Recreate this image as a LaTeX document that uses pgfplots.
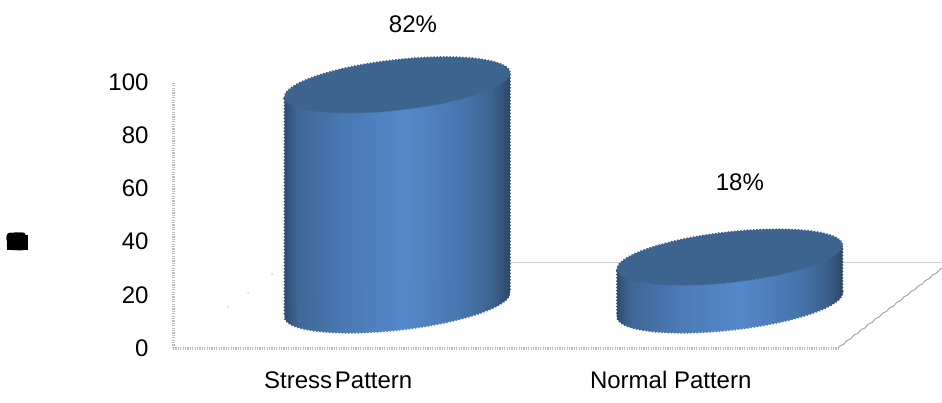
\documentclass[border=0pt]{standalone}
\usepackage{fontspec}
\setmainfont{Liberation Sans}
\usepackage{pgfplots}
\usetikzlibrary{decorations.pathmorphing}
\pgfplotsset{compat=1.18}

% Cylinder colours: dark rim, lit centre, dark rim
\definecolor{cylEdgeL}{HTML}{2F4B70}
\definecolor{cylA}{HTML}{3F6696}
\definecolor{cylB}{HTML}{4A79B3}
\definecolor{cylMid}{HTML}{5588CB}
\definecolor{cylC}{HTML}{4674AC}
\definecolor{cylD}{HTML}{3C628F}
\definecolor{cylEdgeR}{HTML}{2B4565}
\definecolor{cylTop}{HTML}{3D638F}
\definecolor{wallGrey}{HTML}{BDBDBD}

\pgfdeclarehorizontalshading{cylside}{100bp}{
  color(0bp)=(cylEdgeL); color(25bp)=(cylEdgeL); color(28bp)=(cylA);
  color(38bp)=(cylB); color(52bp)=(cylMid); color(65bp)=(cylC);
  color(71bp)=(cylD); color(75bp)=(cylEdgeR); color(100bp)=(cylEdgeR)}

\tikzset{rough/.style={decorate,decoration={zigzag,amplitude=0.7pt,segment length=3.2pt}}}

% Outline of a tilted end cap
\newcommand{\capoutline}{(-113pt,-12pt)
  .. controls (-113pt,-26.08pt) and (-62.4pt,-32.13pt) .. (0pt,-25.5pt)
  .. controls (62.4pt,-18.87pt) and (113pt,-2.08pt) .. (113pt,12pt)
  .. controls (113pt,26.08pt) and (62.4pt,32.13pt) .. (0pt,25.5pt)
  .. controls (-62.4pt,18.87pt) and (-113pt,2.08pt) .. (-113pt,-12pt) -- cycle}
\pgfdeclareplotmark{cylcap}{\path[fill=cylTop,draw=none,rough] \capoutline;}
\pgfdeclareplotmark{cylbase}{\path[shading=cylside,draw=none,rough] \capoutline;}

\begin{document}
\begin{tikzpicture}
\path[use as bounding box] (0pt,0pt) rectangle (942pt,402pt);

% Axis title, overprinted on one spot until it reads as a solid block
\fill[black] (7pt,152pt) rectangle (27.5pt,167pt);
\node[font=\fontsize{25}{25}\selectfont\bfseries,inner sep=0pt] at (17pt,160pt)
  {\makebox[0pt]{\%}\makebox[0pt]{\kern-7pt 4}\makebox[0pt]{\kern7pt 8}\makebox[0pt]{6}\makebox[0pt]{\kern-5pt 0}\makebox[0pt]{\kern5pt 5}};

\begin{axis}[
  at={(173pt,54pt)}, anchor=south west,
  scale only axis, width=665pt, height=266pt,
  xmin=-0.5, xmax=1.5, ymin=0, ymax=100,
  clip=false,
  axis x line*=bottom, axis y line*=left,
  axis line style={draw=wallGrey, line width=3pt, dash pattern=on 1.2pt off 1.2pt, -},
  major tick length=0pt,
  xtick={0,1}, xticklabels={Stress\hspace{-4pt} Pattern, Normal Pattern},
  ytick={0,20,40,60,80,100},
  tick label style={font=\fontsize{24}{24}\selectfont},
  /pgf/number format/assume math mode=true,
  yticklabel style={xshift=-21pt},
  xticklabel style={yshift=-20pt, xshift=-1pt},
]
% floor edges at the back and on the right, specks on the floor
\addplot[draw=gray!35, line width=0.8pt, forget plot] coordinates {(0.5135,32.3) (1.813,32.3)};
\addplot[draw=gray!75, line width=0.9pt, forget plot,
  decorate, decoration={zigzag,amplitude=0.5pt,segment length=9pt}] coordinates {(1.5,0) (1.813,30)};
\addplot[only marks, mark=*, mark size=0.7pt, color=gray!30, forget plot]
  coordinates {(-0.335,15.4) (-0.274,20.7) (-0.202,27.8)};

% Stress Pattern cylinder
\addplot[only marks, mark=cylbase, xshift=58pt, yshift=43pt, forget plot] coordinates {(0,0)};
\addplot[ybar, bar width=226pt, bar shift=0pt, shading=cylside, draw=none, forget plot, rough,
  cm={1,0.1062,0,1,(58pt,27.3pt)}] coordinates {(0,82)};
\addplot[only marks, mark=cylcap, xshift=58pt, yshift=45pt, forget plot] coordinates {(0,82)};

% Normal Pattern cylinder
\addplot[only marks, mark=cylbase, xshift=58pt, yshift=43pt, forget plot] coordinates {(1,0)};
\addplot[ybar, bar width=226pt, bar shift=0pt, shading=cylside, draw=none, forget plot, rough,
  cm={1,0.1062,0,1,(58pt,-10pt)}] coordinates {(1,18)};
\addplot[only marks, mark=cylcap, xshift=58pt, yshift=43pt, forget plot] coordinates {(1,18)};

\node[font=\fontsize{24}{24}\selectfont] at (axis cs:0.2218,121.8) {82\%};
\node[font=\fontsize{24}{24}\selectfont] at (axis cs:1.205,62.4) {18\%};
\end{axis}
\end{tikzpicture}
\end{document}
